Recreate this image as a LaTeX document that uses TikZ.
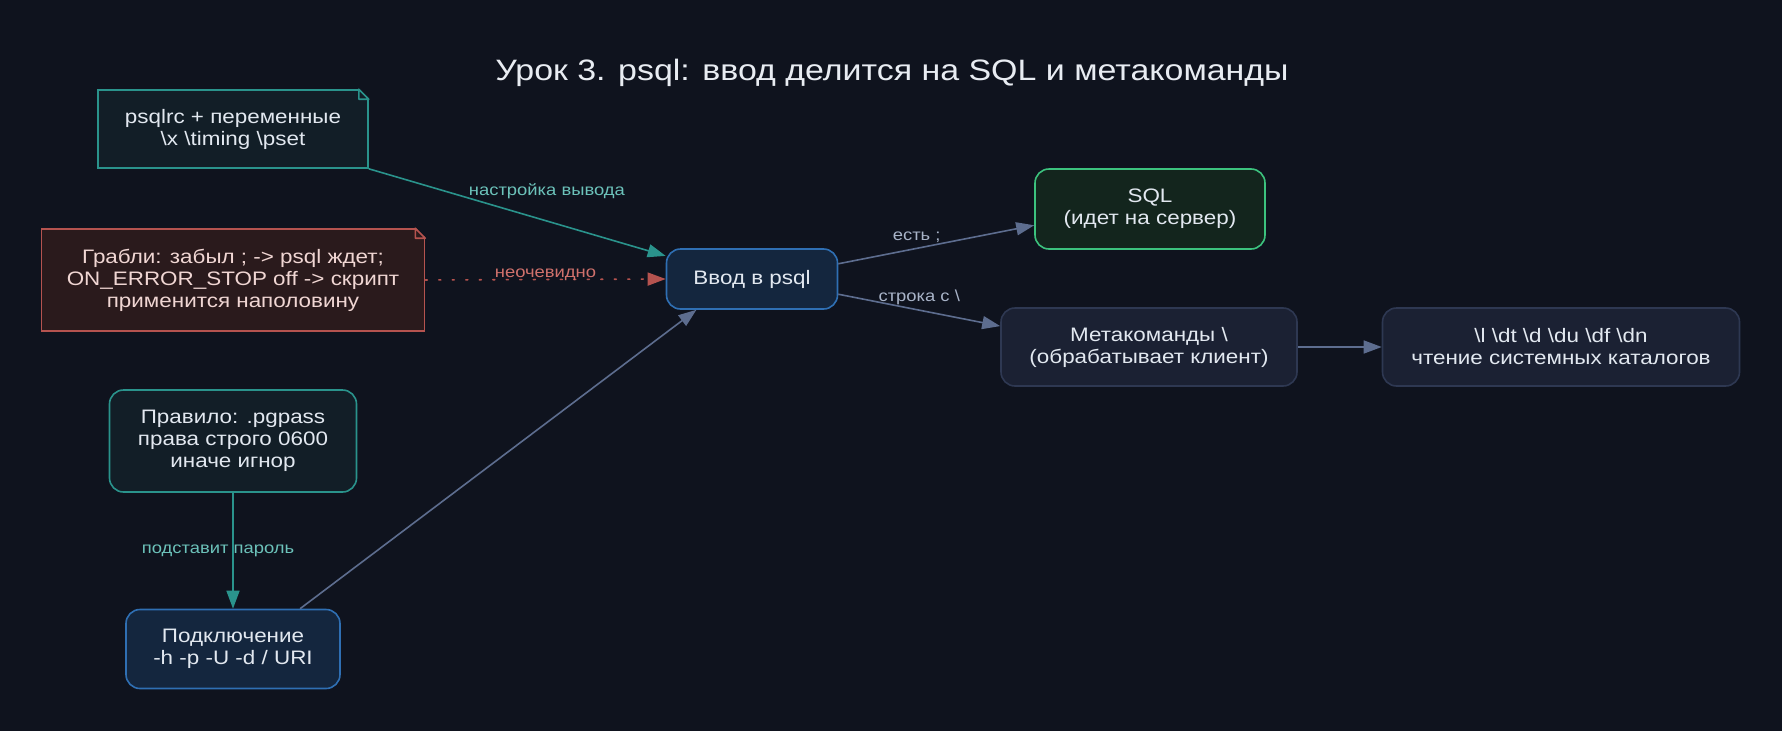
\documentclass[tikz,border=0pt]{standalone}
\usepackage{fontspec}
\setmainfont{Liberation Sans}[FakeStretch=1.15]
\usetikzlibrary{arrows.meta}
\definecolor{bg}{HTML}{0F131E}
\definecolor{titletxt}{HTML}{E8ECF2}
\definecolor{nodetxt}{HTML}{E2E8F0}
\definecolor{bluefill}{HTML}{14263E}
\definecolor{blueline}{HTML}{2F6FB3}
\definecolor{greenfill}{HTML}{13251D}
\definecolor{greenline}{HTML}{3CC27E}
\definecolor{grayfill}{HTML}{1B2133}
\definecolor{grayline}{HTML}{2E3852}
\definecolor{tealfill}{HTML}{121E27}
\definecolor{tealline}{HTML}{2A938C}
\definecolor{redfill}{HTML}{2A1A1C}
\definecolor{redline}{HTML}{B5534F}
\definecolor{redtxt}{HTML}{F0D6D3}
\definecolor{edgegray}{HTML}{5D6D8F}
\definecolor{lblgray}{HTML}{A9B4C8}
\definecolor{lblteal}{HTML}{6CC2BA}
\definecolor{lblred}{HTML}{D0716C}
\tikzstyle{box} = [rectangle, rounded corners=14pt, line width=1.6pt, align=center, text=nodetxt, font=\fontsize{19.5}{22}\selectfont]
\tikzstyle{entry} = [box, draw=blueline, fill=bluefill]
\tikzstyle{server} = [box, draw=greenline, fill=greenfill]
\tikzstyle{client} = [box, draw=grayline, fill=grayfill]
\tikzstyle{rule} = [box, draw=tealline, fill=tealfill]
\tikzstyle{note} = [rectangle, line width=1.6pt, align=center, font=\fontsize{19.5}{22}\selectfont]
\tikzstyle{lbl} = [font=\fontsize{16}{19}\selectfont, inner sep=1pt]
\tikzstyle{arrow} = [line width=1.6pt, draw=edgegray, ->, >={Triangle[length=18pt,width=13pt]}]

\begin{document}
\begin{tikzpicture}[x=1pt, y=-1pt]
    \useasboundingbox [fill=bg] (0,0) rectangle (1782,731);
    \node [font=\fontsize{29.5}{34}\selectfont, text=titletxt] at (892,73) (title) {Урок 3. psql: ввод делится на SQL и метакоманды};

    % notes on the left
    \node [note, draw=tealline, fill=tealfill, text=nodetxt, minimum width=270pt, minimum height=78pt] at (233,129) (psqlrc) {psqlrc + переменные\\\textbackslash x \textbackslash timing \textbackslash pset};
    \node [note, draw=redline, fill=redfill, text=redtxt, minimum width=383pt, minimum height=102pt] at (233,280) (grabli) {Грабли: забыл ; -> psql ждет;\\ON\_ERROR\_STOP off -> скрипт\\применится наполовину};
    \fill [bg] (psqlrc.north east) ++(-10,-1) -- ++(11,0) -- ++(0,11) -- cycle;
    \draw [tealline, line width=1.6pt, line join=round] ([xshift=-10pt]psqlrc.north east) -- ++(10,10) -- ++(-10,0) -- cycle;
    \fill [bg] (grabli.north east) ++(-10,-1) -- ++(11,0) -- ++(0,11) -- cycle;
    \draw [redline, line width=1.6pt, line join=round] ([xshift=-10pt]grabli.north east) -- ++(10,10) -- ++(-10,0) -- cycle;

    \node [rule, minimum width=247pt, minimum height=102pt] at (233,441) (pgpass) {Правило: .pgpass\\права строго 0600\\иначе игнор};
    \node [entry, minimum width=214pt, minimum height=79pt] at (233,649) (connect) {Подключение\\-h -p -U -d / URI};

    % main flow
    \node [entry, minimum width=171pt, minimum height=60pt] at (752,279) (input) {Ввод в psql};
    \node [server, minimum width=230pt, minimum height=80pt] at (1150,209) (sql) {SQL\\(идет на сервер)};
    \node [client, minimum width=296pt, minimum height=78pt] at (1149,347) (meta) {Метакоманды \textbackslash\\(обрабатывает клиент)};
    \node [client, minimum width=357pt, minimum height=78pt] at (1561,347) (catalog) {\textbackslash l \textbackslash dt \textbackslash d \textbackslash du \textbackslash df \textbackslash dn\\чтение системных каталогов};

    \draw [arrow, draw=tealline] (psqlrc.south east) -- node [lbl, text=lblteal, pos=0.6, above=20pt] {настройка вывода} (input.165);
    \draw [arrow, draw=redline, dash pattern=on 2pt off 11.5pt, line cap=round] (grabli.east) -- node [lbl, text=lblred, midway, above=-3pt] {неочевидно} (input.west);
    \draw [arrow, draw=tealline] (pgpass.south) -- node [lbl, text=lblteal, midway, xshift=-15pt] {подставит пароль} (connect.north);
    \draw [arrow] (connect.31) -- (input.209);
    \draw [arrow] (input.10) -- node [lbl, text=lblgray, pos=0.4, above=4pt] {есть ;} (sql.188);
    \draw [arrow] (input.-10) -- node [lbl, text=lblgray, midway, above=4pt] {строка с \textbackslash} (meta.172);
    \draw [arrow] (meta.east) -- (catalog.west);
    \end{tikzpicture}
\end{document}
